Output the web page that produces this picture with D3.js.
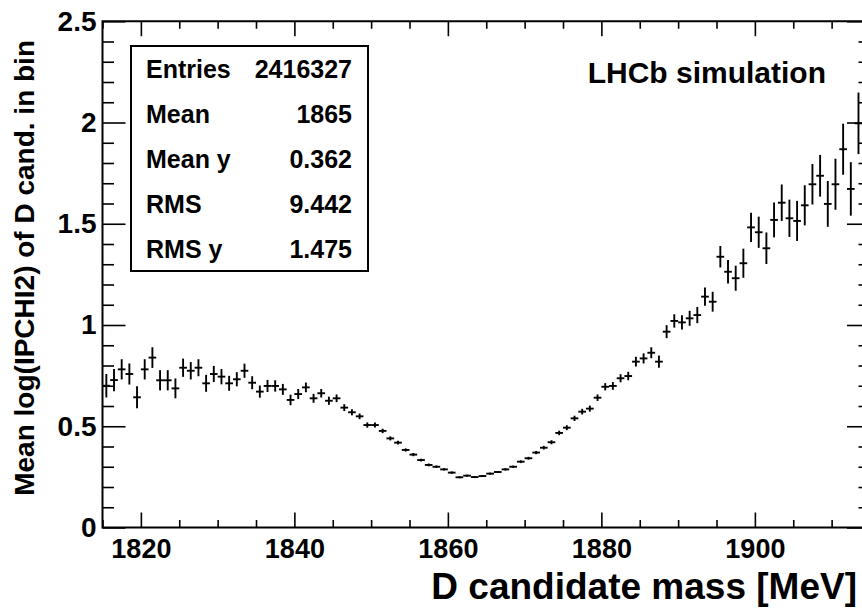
<!DOCTYPE html>
<html>
<head>
<meta charset="utf-8">
<script src="https://cdn.jsdelivr.net/npm/d3@7/dist/d3.min.js"></script>
<style>
  html, body { margin: 0; padding: 0; background: #fff; }
  svg { display: block; }
  text { font-family: "Liberation Sans", Arial, Helvetica, sans-serif; font-weight: bold; fill: #000; }
</style>
</head>
<body>
<svg id="chart" width="862" height="610"></svg>
<script>
// Profile of mean log(IPCHI2) versus D candidate mass, 1 MeV bins
const massBins = [
  1815.5, 1816.5, 1817.5, 1818.5, 1819.5, 1820.5, 1821.5, 1822.5, 1823.5, 1824.5,
  1825.5, 1826.5, 1827.5, 1828.5, 1829.5, 1830.5, 1831.5, 1832.5, 1833.5, 1834.5,
  1835.5, 1836.5, 1837.5, 1838.5, 1839.5, 1840.5, 1841.5, 1842.5, 1843.5, 1844.5,
  1845.5, 1846.5, 1847.5, 1848.5, 1849.5, 1850.5, 1851.5, 1852.5, 1853.5, 1854.5,
  1855.5, 1856.5, 1857.5, 1858.5, 1859.5, 1860.5, 1861.5, 1862.5, 1863.5, 1864.5,
  1865.5, 1866.5, 1867.5, 1868.5, 1869.5, 1870.5, 1871.5, 1872.5, 1873.5, 1874.5,
  1875.5, 1876.5, 1877.5, 1878.5, 1879.5, 1880.5, 1881.5, 1882.5, 1883.5, 1884.5,
  1885.5, 1886.5, 1887.5, 1888.5, 1889.5, 1890.5, 1891.5, 1892.5, 1893.5, 1894.5,
  1895.5, 1896.5, 1897.5, 1898.5, 1899.5, 1900.5, 1901.5, 1902.5, 1903.5, 1904.5,
  1905.5, 1906.5, 1907.5, 1908.5, 1909.5, 1910.5, 1911.5, 1912.5, 1913.5, 1914.5
];
const meanValues = [
  0.700, 0.728, 0.781, 0.758, 0.643, 0.781, 0.839, 0.727, 0.727, 0.687,
  0.789, 0.774, 0.789, 0.712, 0.758, 0.745, 0.712, 0.732, 0.774, 0.715,
  0.671, 0.699, 0.699, 0.682, 0.630, 0.659, 0.692, 0.638, 0.663, 0.626,
  0.638, 0.592, 0.569, 0.549, 0.506, 0.506, 0.477, 0.440, 0.419, 0.383,
  0.360, 0.333, 0.309, 0.300, 0.287, 0.271, 0.248, 0.256, 0.249, 0.254,
  0.266, 0.274, 0.287, 0.300, 0.325, 0.342, 0.370, 0.394, 0.421, 0.467,
  0.493, 0.539, 0.572, 0.587, 0.641, 0.695, 0.699, 0.737, 0.748, 0.819,
  0.835, 0.863, 0.819, 0.967, 1.020, 1.013, 1.033, 1.049, 1.140, 1.115,
  1.337, 1.263, 1.231, 1.305, 1.482, 1.458, 1.379, 1.519, 1.604, 1.527,
  1.514, 1.591, 1.695, 1.737, 1.598, 1.695, 1.868, 1.672, 1.996, 1.848
];
const meanErrors = [
  0.058, 0.055, 0.050, 0.052, 0.054, 0.050, 0.051, 0.050, 0.050, 0.049,
  0.045, 0.043, 0.042, 0.042, 0.040, 0.038, 0.037, 0.035, 0.035, 0.032,
  0.030, 0.030, 0.028, 0.027, 0.026, 0.025, 0.024, 0.022, 0.021, 0.020,
  0.019, 0.017, 0.015, 0.014, 0.013, 0.012, 0.011, 0.010, 0.009, 0.008,
  0.008, 0.007, 0.007, 0.006, 0.006, 0.006, 0.005, 0.005, 0.005, 0.005,
  0.005, 0.005, 0.006, 0.006, 0.007, 0.007, 0.008, 0.009, 0.010, 0.011,
  0.012, 0.013, 0.014, 0.015, 0.016, 0.018, 0.019, 0.020, 0.021, 0.024,
  0.025, 0.027, 0.030, 0.032, 0.033, 0.035, 0.037, 0.040, 0.045, 0.049,
  0.053, 0.058, 0.062, 0.072, 0.072, 0.077, 0.078, 0.086, 0.090, 0.092,
  0.099, 0.099, 0.100, 0.103, 0.113, 0.126, 0.126, 0.132, 0.152, 0.160
];
const binWidth = 1;

const xMajorTicks = [1820, 1840, 1860, 1880, 1900];
const xMinorTicks = [1815, 1825, 1830, 1835, 1845, 1850, 1855, 1865, 1870, 1875,
                     1885, 1890, 1895, 1905, 1910, 1915];
const yMajorTicks = [0, 0.5, 1, 1.5, 2, 2.5];
const yTickLabels = ["0", "0.5", "1", "1.5", "2", "2.5"];
const yMinorTicks = [0.1, 0.2, 0.3, 0.4, 0.6, 0.7, 0.8, 0.9, 1.1, 1.2, 1.3, 1.4,
                     1.6, 1.7, 1.8, 1.9, 2.1, 2.2, 2.3, 2.4];

const statNames = ["Entries", "Mean", "Mean y", "RMS", "RMS y"];
const statValues = ["2416327", "1865", "0.362", "9.442", "1.475"];

const xTitle = "D candidate mass [MeV]";
const yTitle = "Mean log(IPCHI2) of D cand. in bin";
const labelText = "LHCb simulation";

// Frame geometry
const frame = { left: 102.5, right: 870, top: 21.25, bottom: 527.5 };

const svg = d3.select("#chart");

const x = d3.scaleLinear().domain([1815, 1915]).range([frame.left, frame.right]);
const y = d3.scaleLinear().domain([0, 2.5]).range([frame.bottom, frame.top]);

const tickLenX = 15, tickLenY = 23;

// Bottom axis (major + minor, ticks pointing into the frame)
const gBottom = svg.append("g").attr("class", "xax").attr("transform", `translate(0,${frame.bottom})`);
gBottom.call(d3.axisBottom(x).tickValues(xMajorTicks).tickFormat(d3.format("d"))
  .tickSize(-tickLenX).tickPadding(11));
gBottom.append("g").call(d3.axisBottom(x).tickValues(xMinorTicks).tickFormat("")
  .tickSize(-tickLenX / 2));

// Top axis ticks
const gTop = svg.append("g").attr("transform", `translate(0,${frame.top})`);
gTop.call(d3.axisTop(x).tickValues(xMajorTicks).tickFormat("").tickSize(-tickLenX));
gTop.append("g").call(d3.axisTop(x).tickValues(xMinorTicks).tickFormat("").tickSize(-tickLenX / 2));

// Left axis
const gLeft = svg.append("g").attr("class", "yax").attr("transform", `translate(${frame.left},0)`);
gLeft.call(d3.axisLeft(y).tickValues(yMajorTicks)
  .tickFormat((d, i) => yTickLabels[i]).tickSize(-tickLenY).tickPadding(6));
gLeft.append("g").call(d3.axisLeft(y).tickValues(yMinorTicks).tickFormat("").tickSize(-tickLenY / 2));

// Right axis ticks
const gRight = svg.append("g").attr("transform", `translate(${frame.right},0)`);
gRight.call(d3.axisRight(y).tickValues(yMajorTicks).tickFormat("").tickSize(-tickLenY));
gRight.append("g").call(d3.axisRight(y).tickValues(yMinorTicks).tickFormat("").tickSize(-tickLenY / 2));

svg.selectAll(".domain").remove();
svg.selectAll(".tick line").attr("stroke", "#000").attr("stroke-width", 1.6);
svg.selectAll(".tick text").attr("fill", "#000")
  .style("font-family", "'Liberation Sans', Arial, sans-serif").style("font-weight", "bold");
svg.selectAll(".xax .tick text").style("font-size", "27px");
svg.selectAll(".yax .tick text").style("font-size", "28px");

// Frame
svg.append("rect")
  .attr("x", frame.left).attr("y", frame.top)
  .attr("width", frame.right - frame.left).attr("height", frame.bottom - frame.top)
  .attr("fill", "none").attr("stroke", "#000").attr("stroke-width", 2);

// Profile points: horizontal bin-width bar plus vertical error bar
const points = massBins.map((m, i) => ({ m, v: meanValues[i], e: meanErrors[i] }));
const gPts = svg.append("g").attr("stroke", "#000").attr("stroke-width", 1.9);
gPts.selectAll("line.hbar").data(points).join("line")
  .attr("class", "hbar")
  .attr("x1", d => x(d.m - binWidth / 2)).attr("x2", d => x(d.m + binWidth / 2))
  .attr("y1", d => y(d.v)).attr("y2", d => y(d.v));
gPts.selectAll("line.vbar").data(points).join("line")
  .attr("class", "vbar")
  .attr("x1", d => x(d.m)).attr("x2", d => x(d.m))
  .attr("y1", d => y(d.v - d.e)).attr("y2", d => y(d.v + d.e));

// Axis titles
svg.append("text")
  .attr("x", 857).attr("y", 599)
  .attr("text-anchor", "end")
  .style("font-size", "37px")
  .text(xTitle);

svg.append("text")
  .attr("transform", "translate(34,40) rotate(-90)")
  .attr("text-anchor", "end")
  .style("font-size", "28px")
  .text(yTitle);

// Label
svg.append("text")
  .attr("x", 826).attr("y", 83)
  .attr("text-anchor", "end")
  .style("font-size", "30px")
  .text(labelText);

// Statistics box
const box = { x: 131, y: 46, w: 237, h: 225 };
svg.append("rect")
  .attr("x", box.x).attr("y", box.y).attr("width", box.w).attr("height", box.h)
  .attr("fill", "#fff").attr("stroke", "#000").attr("stroke-width", 2);
const rowH = box.h / statNames.length;
const gStats = svg.append("g");
gStats.selectAll("text.name").data(statNames).join("text")
  .attr("class", "name")
  .attr("x", box.x + 15)
  .attr("y", (d, i) => box.y + rowH * (i + 0.5) + 9)
  .style("font-size", "25px")
  .text(d => d);
gStats.selectAll("text.val").data(statValues).join("text")
  .attr("class", "val")
  .attr("x", box.x + box.w - 16)
  .attr("y", (d, i) => box.y + rowH * (i + 0.5) + 9)
  .attr("text-anchor", "end")
  .style("font-size", "25px")
  .text(d => d);
</script>
</body>
</html>
